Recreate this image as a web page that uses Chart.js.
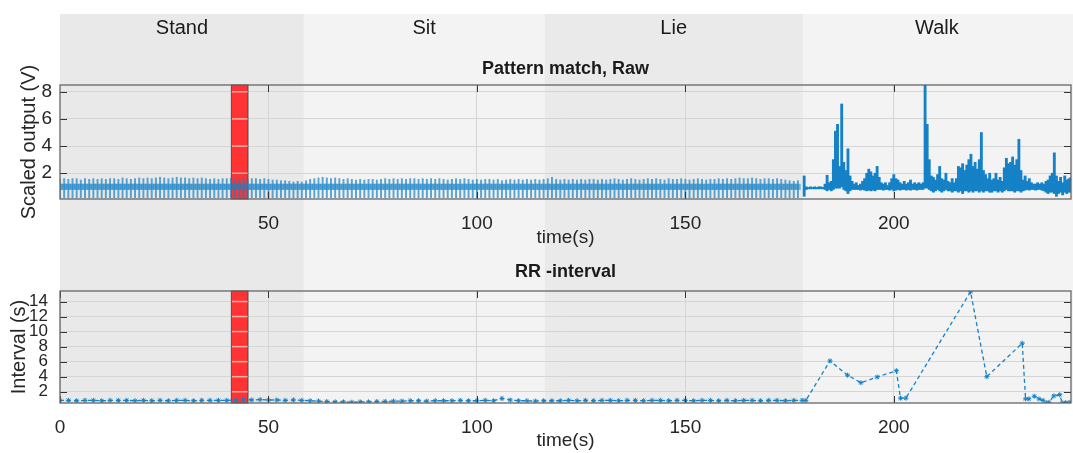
<!DOCTYPE html>
<html>
<head>
<meta charset="utf-8">
<script src="https://cdn.jsdelivr.net/npm/chart.js@4.4.1/dist/chart.umd.min.js"></script>
<style>
html, body { margin: 0; padding: 0; background: #fff; }
#wrap { position: relative; width: 1073px; height: 453px; }
#top { position: absolute; left: 0; top: 0; width: 1073px; height: 250px; }
#bot { position: absolute; left: 0; top: 250px; width: 1073px; height: 203px; }
</style>
</head>
<body>
<div id="wrap">
  <div id="top"><canvas id="rawChart"></canvas></div>
  <div id="bot"><canvas id="rrChart"></canvas></div>
</div>
<script>
// activities (seconds)
var activities = ["Stand", "Sit", "Lie", "Walk"];
var activityStart = [0, 58.5, 116.2, 178.2];
var activityEnd = [58.5, 116.2, 178.2, 242.5];
var bandColors = ["#e9e9e9", "#f3f3f3", "#eaeaea", "#f3f3f3"];

// marked (red) segment
var redStart = 41.1;
var redEnd = 45.1;

// ticks
var rawXTicks = [50, 100, 150, 200];
var rrXTicks = [0, 50, 100, 150, 200];
var rawYTicks = [2, 4, 6, 8];
var rrYTicks = [2, 4, 6, 8, 10, 12, 14];

// raw signal, rest part: beat peak per second (t = 0..177)
var restPeak = [
  1.55,1.6,1.55,1.6,1.6,1.5,1.6,1.55,1.6,1.55,
  1.6,1.55,1.6,1.6,1.55,1.65,1.6,1.55,1.6,1.65,
  1.6,1.65,1.6,1.65,1.7,1.65,1.6,1.65,1.7,1.65,
  1.65,1.6,1.65,1.6,1.65,1.6,1.55,1.6,1.55,1.6,
  1.6,1.65,1.6,1.55,1.6,1.55,1.6,1.6,1.55,1.6,
  1.55,1.5,1.5,1.45,1.45,1.4,1.35,1.4,1.35,1.45,
  1.55,1.6,1.65,1.7,1.65,1.6,1.65,1.6,1.55,1.6,
  1.55,1.5,1.55,1.5,1.55,1.55,1.5,1.55,1.6,1.55,
  1.6,1.55,1.6,1.55,1.6,1.6,1.55,1.6,1.55,1.6,
  1.55,1.6,1.55,1.5,1.55,1.6,1.55,1.6,1.55,1.5,
  1.55,1.5,1.55,1.55,1.5,1.55,1.45,1.5,1.55,1.5,
  1.55,1.5,1.55,1.5,1.55,1.5,1.55,1.6,1.7,1.55,
  1.5,1.55,1.5,1.55,1.5,1.55,1.5,1.55,1.55,1.5,
  1.55,1.5,1.55,1.6,1.55,1.5,1.55,1.6,1.55,1.5,
  1.55,1.6,1.55,1.6,1.55,1.5,1.6,1.55,1.55,1.6,
  1.55,1.5,1.55,1.6,1.55,1.5,1.55,1.55,1.6,1.55,
  1.6,1.55,1.6,1.65,1.6,1.6,1.65,1.6,1.55,1.6,
  1.6,1.55,1.6,1.55,1.5,1.45,1.4,1.45
];
var restTrough = 0.2;
var restBaseLow = 0.8;
var restBaseHigh = 1.2;

// raw signal, walk part: envelope every 0.5 s from 178.5 s
var walkStart = 178.5;
var walkStep = 0.5;
var walkHigh = [
  1.8,1.0,0.95,1.0,0.95,1.0,0.95,1.0,1.0,0.95,
  1.2,1.85,1.3,1.4,3.0,5.1,5.6,2.5,7.1,2.8,
  2.2,3.8,1.8,1.4,1.2,1.3,1.1,1.2,1.4,1.6,
  2.0,2.3,2.1,1.8,2.0,2.5,1.7,1.3,1.2,1.3,
  1.1,1.3,1.6,1.9,1.6,1.5,1.3,1.2,1.4,1.2,
  1.3,1.5,1.2,1.3,1.2,1.3,1.2,1.3,8.5,5.6,
  3.0,1.8,1.7,1.5,1.9,2.5,1.6,1.5,2.0,1.4,
  1.3,1.6,1.3,1.6,2.5,2.4,2.7,2.2,2.6,3.0,
  3.4,2.5,2.8,2.3,3.0,5.0,2.2,1.9,1.6,2.0,
  1.5,1.6,2.0,1.5,1.7,1.4,2.4,3.1,2.7,2.8,
  3.2,2.6,3.0,4.5,2.2,1.5,1.8,1.4,1.6,1.3,
  1.2,1.2,1.3,1.2,1.3,1.2,1.4,1.5,1.8,2.0,
  3.5,1.8,1.4,1.7,1.3,1.8,1.5,1.6,1.7
];
var walkLow = [
  0.3,0.8,0.85,0.85,0.85,0.85,0.85,0.85,0.85,0.85,
  0.8,0.7,0.8,0.7,0.8,0.9,0.9,0.9,1.0,0.8,
  0.7,0.5,0.7,0.8,0.8,0.8,0.8,0.75,0.8,0.75,
  0.7,0.75,0.7,0.75,0.7,0.8,0.8,0.8,0.75,0.8,
  0.8,0.75,0.8,0.7,0.75,0.8,0.75,0.8,0.8,0.75,
  0.8,0.75,0.8,0.8,0.75,0.8,0.8,0.8,0.9,0.9,
  0.8,0.7,0.6,0.7,0.8,0.7,0.6,0.7,0.8,0.7,
  0.7,0.6,0.7,0.7,0.6,0.7,0.5,0.7,0.7,0.6,
  0.7,0.6,0.7,0.7,0.6,0.7,0.6,0.7,0.7,0.6,
  0.6,0.7,0.7,0.6,0.7,0.6,0.7,0.8,0.7,0.7,
  0.7,0.6,0.7,0.7,0.6,0.7,0.75,0.8,0.75,0.8,
  0.8,0.75,0.8,0.8,0.75,0.7,0.6,0.5,0.6,0.6,
  0.5,0.3,0.5,0.6,0.4,0.6,0.5,0.6,0.6
];

// RR interval, rest part: every 2 s (t = 0..178)
var rrRestStep = 2;
var rrRest = [
  0.85,0.85,0.8,0.85,0.85,0.8,0.85,0.85,0.85,0.8,
  0.85,0.8,0.85,0.8,0.85,0.85,0.8,0.85,0.85,0.85,
  0.85,0.9,1.0,0.9,0.95,0.9,0.9,0.85,0.9,0.85,
  0.8,0.75,0.7,0.65,0.65,0.6,0.65,0.65,0.7,0.7,
  0.75,0.75,0.8,0.8,0.75,0.8,0.8,0.8,0.85,0.8,
  0.8,0.85,0.8,1.1,0.9,0.8,0.8,0.75,0.8,0.8,
  0.8,0.85,0.8,0.85,0.8,0.85,0.85,0.8,0.85,0.85,
  0.8,0.85,0.85,0.8,0.85,0.85,0.8,0.85,0.85,0.8,
  0.85,0.8,0.85,0.85,0.8,0.85,0.85,0.8,0.85,0.85
];
// RR interval, walk part
var rrWalkT = [178.9,184.7,188.9,192.1,196.0,200.6,201.6,202.9,218.4,222.3,230.8,231.6,232.4,233.7,234.8,235.8,236.6,237.2,238.4,239.8,240.4,241.2,242.0,242.5];
var rrWalkV = [0.85,6.1,4.2,3.2,3.95,4.8,1.15,1.15,15.3,4.0,8.45,1.05,1.05,1.4,1.05,0.85,0.5,0.6,1.45,1.6,0.5,0.55,0.55,0.55];

var blue = "#1581c6";
var fontFamily = "'Liberation Sans', Arial, sans-serif";
var textColor = "#262626";

// background bands, red segment, box, tick marks and free texts
var decor = {
  id: "decor",
  beforeDraw: function (chart, args, opts) {
    var ctx = chart.ctx, xs = chart.scales.x, area = chart.chartArea;
    var bottom = opts.bandToCanvas ? chart.height : area.bottom;
    ctx.save();
    for (var i = 0; i < activities.length; i++) {
      var x0 = xs.getPixelForValue(activityStart[i]);
      var x1 = i == activities.length - 1 ? chart.width : xs.getPixelForValue(activityEnd[i]);
      ctx.fillStyle = bandColors[i];
      ctx.fillRect(x0, opts.bandTop, x1 - x0, bottom - opts.bandTop);
    }
    ctx.restore();
  },
  beforeDatasetsDraw: function (chart, args, opts) {
    var ctx = chart.ctx, xs = chart.scales.x, ys = chart.scales.y, area = chart.chartArea;
    var x0 = xs.getPixelForValue(redStart), x1 = xs.getPixelForValue(redEnd);
    ctx.save();
    ctx.fillStyle = "#ff3333";
    ctx.fillRect(x0, area.top, x1 - x0, area.bottom - area.top);
    ctx.strokeStyle = "rgba(255,255,255,0.6)";
    ctx.lineWidth = 1.5;
    opts.yTicks.forEach(function (v) {
      var y = ys.getPixelForValue(v);
      ctx.beginPath(); ctx.moveTo(x0, y); ctx.lineTo(x1, y); ctx.stroke();
    });
    ctx.strokeStyle = "rgba(60,60,60,0.8)";
    ctx.lineWidth = 1;
    ctx.strokeRect(x0, area.top, x1 - x0, area.bottom - area.top);
    ctx.restore();
  },
  afterDraw: function (chart, args, opts) {
    var ctx = chart.ctx, xs = chart.scales.x, ys = chart.scales.y, area = chart.chartArea;
    ctx.save();
    // tick marks (inside)
    ctx.strokeStyle = "#333";
    ctx.lineWidth = 1;
    opts.xTicks.forEach(function (v) {
      var x = Math.round(xs.getPixelForValue(v)) + 0.5;
      ctx.beginPath();
      ctx.moveTo(x, area.top); ctx.lineTo(x, area.top + 7);
      ctx.moveTo(x, area.bottom); ctx.lineTo(x, area.bottom - 7);
      ctx.stroke();
    });
    opts.yTicks.forEach(function (v) {
      var y = Math.round(ys.getPixelForValue(v)) + 0.5;
      ctx.beginPath();
      ctx.moveTo(area.left, y); ctx.lineTo(area.left + 7, y);
      ctx.moveTo(area.right, y); ctx.lineTo(area.right - 7, y);
      ctx.stroke();
    });
    // box
    ctx.strokeStyle = "#666";
    ctx.lineWidth = 1.3;
    ctx.strokeRect(area.left, area.top, area.right - area.left, area.bottom - area.top);
    // texts
    var cx = (area.left + area.right) / 2;
    ctx.fillStyle = "#1a1a1a";
    ctx.textAlign = "center";
    ctx.textBaseline = "middle";
    if (opts.bandLabels) {
      ctx.font = "20px " + fontFamily;
      for (var i = 0; i < activities.length; i++) {
        var bx = (xs.getPixelForValue(activityStart[i]) + xs.getPixelForValue(activityEnd[i])) / 2;
        ctx.fillText(activities[i], bx, 28);
      }
    }
    ctx.font = "bold 18px " + fontFamily;
    ctx.fillText(opts.title, cx, opts.titleY);
    ctx.fillStyle = textColor;
    ctx.font = "19px " + fontFamily;
    ctx.fillText("time(s)", cx, opts.xLabelY);
    ctx.restore();
  }
};

function fixTicks(list) {
  return function (scale) {
    scale.ticks = list.map(function (v) { return { value: v }; });
  };
}

function axisOptions(xTicks, yTicks, yMin, yMax, yTitle, xHeight, yTickSize, yTickPad, yTitlePad) {
  return {
    x: {
      type: "linear", min: 0, max: 242.5, offset: false,
      grid: { color: "#d5d5d5", drawTicks: false, offset: false },
      border: { display: false },
      afterBuildTicks: fixTicks(xTicks),
      afterFit: function (scale) { scale.height = xHeight; },
      ticks: { padding: 13, color: textColor, font: { size: 19, family: fontFamily }, maxRotation: 0, autoSkip: false }
    },
    y: {
      min: yMin, max: yMax,
      grid: { color: "#d5d5d5", drawTicks: false },
      border: { display: false },
      afterBuildTicks: fixTicks(yTicks),
      afterFit: function (scale) { scale.width = 60; },
      ticks: { padding: yTickPad, color: textColor, font: { size: yTickSize, family: fontFamily }, autoSkip: false },
      title: { display: true, text: yTitle, color: textColor, font: { size: 20, family: fontFamily }, padding: { top: yTitlePad, bottom: 0 } }
    }
  };
}

// raw chart data
var restSpikes = restPeak.map(function (p, i) { return { x: i, y: [restTrough, p] }; });
var restBase = restPeak.map(function (p, i) { return { x: i, y: [restBaseLow, restBaseHigh] }; });
var walkBars = walkHigh.map(function (h, i) { return { x: walkStart + i * walkStep, y: [walkLow[i], h] }; });

new Chart(document.getElementById("rawChart"), {
  type: "bar",
  data: {
    datasets: [
      { data: restSpikes, backgroundColor: "rgba(21,129,198,0.7)", barThickness: 1.3, grouped: false },
      { data: restBase, backgroundColor: "rgba(21,129,198,0.55)", barThickness: 5, grouped: false },
      { data: walkBars, backgroundColor: blue, barThickness: 2.2, grouped: false }
    ]
  },
  options: {
    responsive: true,
    maintainAspectRatio: false,
    animation: false,
    layout: { autoPadding: false, padding: { top: 85, right: 2, left: 0, bottom: 0 } },
    scales: axisOptions(rawXTicks, rawYTicks, 0.1, 8.5, "Scaled output (V)", 51, 19, 8, 17),
    plugins: {
      legend: { display: false },
      tooltip: { enabled: false },
      decor: { bandTop: 14, bandToCanvas: true, bandLabels: true, title: "Pattern match, Raw", titleY: 69, xLabelY: 238, xTicks: rawXTicks, yTicks: rawYTicks }
    }
  },
  plugins: [decor]
});

// RR chart data
var rrPoints = rrRest.map(function (v, i) { return { x: i * rrRestStep, y: v }; })
  .concat(rrWalkT.map(function (t, i) { return { x: t, y: rrWalkV[i] }; }));

new Chart(document.getElementById("rrChart"), {
  type: "line",
  data: {
    datasets: [{
      data: rrPoints,
      borderColor: blue,
      backgroundColor: blue,
      borderWidth: 1.3,
      borderDash: [4, 3],
      pointStyle: "star",
      pointRadius: 2.5,
      pointBorderWidth: 1,
      pointBorderColor: blue,
      tension: 0
    }]
  },
  options: {
    responsive: true,
    maintainAspectRatio: false,
    animation: false,
    layout: { autoPadding: false, padding: { top: 41, right: 2, left: 0, bottom: 0 } },
    scales: axisOptions(rrXTicks, rrYTicks, 0.5, 15.4, "Interval (s)", 50, 17, 12, 7),
    plugins: {
      legend: { display: false },
      tooltip: { enabled: false },
      decor: { bandTop: 0, bandToCanvas: false, bandLabels: false, title: "RR -interval", titleY: 22, xLabelY: 191, xTicks: rrXTicks, yTicks: rrYTicks }
    }
  },
  plugins: [decor]
});
</script>
</body>
</html>
